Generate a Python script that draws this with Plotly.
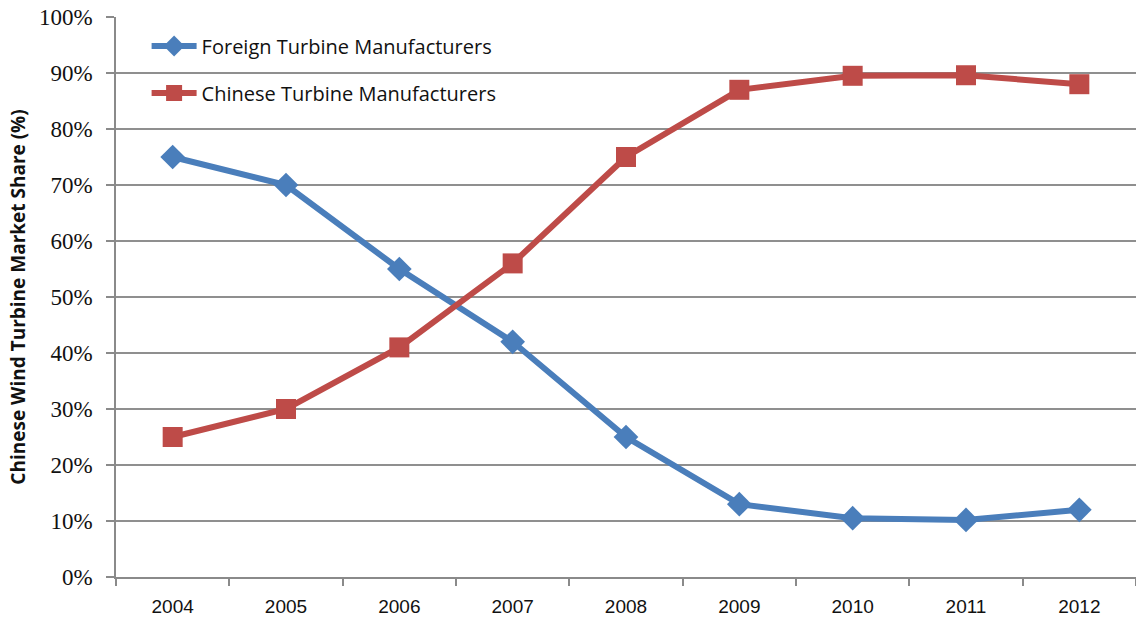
import plotly.graph_objects as go

years = ["2004", "2005", "2006", "2007", "2008", "2009", "2010", "2011", "2012"]
foreign_share = [75, 70, 55, 42, 25, 13, 10.5, 10.2, 12]
chinese_share = [25, 30, 41, 56, 75, 87, 89.5, 89.6, 88]
y_ticks = [0, 10, 20, 30, 40, 50, 60, 70, 80, 90, 100]

BLUE = "#4A7EBB"
RED = "#BE4B48"

fig = go.Figure()
fig.add_trace(go.Scatter(
    x=years, y=foreign_share, mode="lines+markers",
    name="Foreign Turbine Manufacturers", legendgroup="f",
    line=dict(color=BLUE, width=6),
    marker=dict(symbol="diamond", size=19, color=BLUE),
))
fig.add_trace(go.Scatter(
    x=years, y=chinese_share, mode="lines+markers",
    name="Chinese Turbine Manufacturers", legendgroup="c",
    line=dict(color=RED, width=6),
    marker=dict(symbol="square", size=20, color=RED),
))

fig.update_layout(
    width=1136, height=623,
    margin=dict(l=116, r=0, t=17, b=46),
    paper_bgcolor="white", plot_bgcolor="white",
    showlegend=True,
    legend=dict(
        x=0.030, y=0.983, xanchor="left", yanchor="top",
        font=dict(family="Open Sans, Liberation Sans, sans-serif", size=20, color="#111"),
        bgcolor="rgba(0,0,0,0)", tracegroupgap=18, itemwidth=45,
    ),
)
fig.update_xaxes(
    type="category", range=[-0.5, 8.5],
    tickson="boundaries", ticks="outside", ticklen=7, tickwidth=1.5, tickcolor="#8a8a8a",
    showline=True, linecolor="#8a8a8a", linewidth=1.5,
    showgrid=False, ticklabelstandoff=11,
    tickfont=dict(family="Liberation Sans, Arial, sans-serif", size=19, color="#111"),
)
fig.update_yaxes(
    range=[0, 100], tickvals=y_ticks, ticktext=[f"{v}%" for v in y_ticks],
    ticks="outside", ticklen=8, tickwidth=1.5, tickcolor="#8a8a8a",
    showline=True, linecolor="#8a8a8a", linewidth=1.5,
    showgrid=True, gridcolor="#8f8f8f", gridwidth=1.5, zeroline=False,
    ticklabelstandoff=9,
    tickfont=dict(family="Liberation Serif, Times New Roman, serif", size=23, color="#111"),
    title=dict(
        text="<b>Chinese Wind Turbine Market Share (%)</b>",
        font=dict(family="Open Sans, Liberation Sans, sans-serif", size=19, color="#111"),
        standoff=8,
    ),
)

fig.write_html("out.html")
